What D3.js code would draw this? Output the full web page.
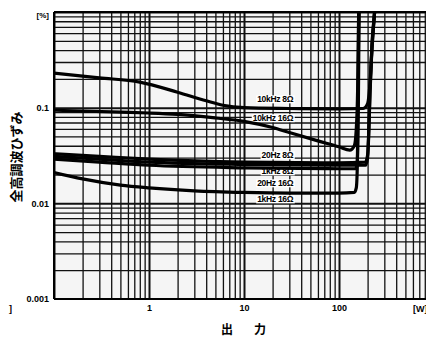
<!DOCTYPE html>
<html><head><meta charset="utf-8">
<script src="https://cdn.jsdelivr.net/npm/d3@7"></script>
<style>
html,body{margin:0;padding:0;background:#fff;}
svg{display:block;}
text{font-family:"Liberation Sans",Arial,sans-serif;fill:#000;}
</style></head>
<body>
<svg id="c" width="426" height="340"></svg>
<script>
// ---- data ----
const xTickValues = [1, 10, 100];
const xTickLabels = ["1", "10", "100"];
const yTickValues = [0.001, 0.01, 0.1];
const yTickLabels = ["0.001", "0.01", "0.1"];
const seriesNames = ["10kHz 8Ω", "10kHz 16Ω", "20Hz 8Ω", "1kHz 8Ω", "20Hz 16Ω", "1kHz 16Ω"];
// [power W, THD %]
const thd10k8 = [[0.1,0.23],[0.3,0.205],[0.8,0.185],[2,0.145],[4,0.118],[6,0.106],[10,0.1],[30,0.098],[100,0.097],[180,0.098],[200,0.11],[210,0.16],[222,0.4],[237,1],[250,2]];
const thd10k16 = [[0.1,0.094],[0.5,0.09],[1,0.088],[2,0.085],[5,0.078],[10,0.072],[20,0.062],[30,0.055],[60,0.045],[100,0.039],[130,0.036],[145,0.04],[152,0.06],[157,0.15],[161,1],[163,2]];
const thd20_8 = [[0.1,0.033],[0.3,0.031],[1,0.029],[10,0.027],[100,0.0265],[190,0.027],[200,0.032],[206,0.06],[212,0.15],[222,0.45],[237,1],[250,2]];
const thd1k8 = [[0.1,0.031],[0.3,0.029],[1,0.027],[10,0.0255],[100,0.025],[190,0.025],[200,0.03],[206,0.055],[212,0.14],[222,0.42],[237,1],[250,2]];
const thd20_16 = [[0.1,0.029],[0.3,0.027],[1,0.025],[10,0.0235],[100,0.023],[150,0.023],[156,0.028],[160,0.12],[163,1],[165,2]];
const thd1k16 = [[0.1,0.021],[0.2,0.018],[0.5,0.0155],[1,0.0145],[3,0.0135],[10,0.013],[30,0.0128],[100,0.0128],[145,0.013],[152,0.0145],[156,0.025],[159,0.15],[162,2]];
const seriesData = [thd10k8, thd10k16, thd20_8, thd1k8, thd20_16, thd1k16];
const labelY = [0.12, 0.0762, 0.0312, 0.0212, 0.0159, 0.0108]; // label anchor THD values
const labelX = 33; // label right edge, W

// ---- layout ----
const L = 54, R = 434, T = 12, B = 299;
const svg = d3.select("#c");
const x = d3.scaleLog().domain([0.1, 1000]).range([L, R]);
const y = d3.scaleLog().domain([0.001, 1]).range([B, T]);

svg.append("defs").append("clipPath").attr("id","pc")
  .append("rect").attr("x",L).attr("y",T).attr("width",R-L).attr("height",B-T);

const plot = svg.append("g").attr("clip-path","url(#pc)");
plot.append("rect").attr("x",L).attr("y",T).attr("width",R-L).attr("height",B-T).attr("fill","#f5f5f5");

// grid via axes
const isDecade = v => Math.abs(Math.log10(v) - Math.round(Math.log10(v))) < 1e-6;
const gx = plot.append("g").attr("transform",`translate(0,${B})`)
  .call(d3.axisBottom(x).tickValues(x.ticks()).tickSize(-(B-T)).tickFormat(""));
gx.select(".domain").remove();
gx.selectAll("line").attr("stroke","#111").attr("stroke-width", d => isDecade(d) ? 2 : 1.3);
const gy = plot.append("g").attr("transform",`translate(${L},0)`)
  .call(d3.axisLeft(y).tickValues(y.ticks()).tickSize(-(R-L)).tickFormat(""));
gy.select(".domain").remove();
gy.selectAll("line").attr("stroke","#111").attr("stroke-width", d => isDecade(d) ? 2 : 1.3);

// frame
svg.append("line").attr("x1",L).attr("x2",L).attr("y1",T).attr("y2",B).attr("stroke","#000").attr("stroke-width",2);
svg.append("line").attr("x1",L).attr("x2",R).attr("y1",B).attr("y2",B).attr("stroke","#000").attr("stroke-width",2);
svg.append("line").attr("x1",L).attr("x2",R).attr("y1",T).attr("y2",T).attr("stroke","#000").attr("stroke-width",2);

// labels (with white backing)
seriesNames.forEach((n,i) => {
  const t = plot.append("text").attr("x", x(labelX)).attr("y", y(labelY[i]))
    .attr("text-anchor","end").attr("dominant-baseline","middle")
    .attr("font-size",8.5).attr("font-weight","bold").attr("letter-spacing","-0.3").text(n);
  const bb = t.node().getBBox();
  plot.insert("rect", () => t.node()).attr("x",bb.x-1).attr("y",bb.y+1).attr("width",bb.width+2).attr("height",bb.height-2).attr("fill","#fff");
});

// curves
const line = d3.line().x(d => x(d[0])).y(d => y(d[1])).curve(d3.curveMonotoneX);
seriesData.forEach(s => {
  plot.append("path").attr("d", line(s)).attr("fill","none").attr("stroke","#000")
    .attr("stroke-width",3.2).attr("stroke-linejoin","round");
});

// tick labels via axes
const ax = svg.append("g").attr("transform",`translate(0,${B})`)
  .call(d3.axisBottom(x).tickValues(xTickValues).tickSize(0).tickPadding(6).tickFormat((d,i)=>xTickLabels[i]));
ax.select(".domain").remove();
ax.selectAll("text").attr("font-size",9).attr("font-weight","bold").style("font-family","Liberation Sans, Arial, sans-serif");
const ay = svg.append("g").attr("transform",`translate(${L},0)`)
  .call(d3.axisLeft(y).tickValues(yTickValues).tickSize(0).tickPadding(5).tickFormat((d,i)=>yTickLabels[i]));
ay.select(".domain").remove();
ay.selectAll("text").attr("font-size",9).attr("font-weight","bold").style("font-family","Liberation Sans, Arial, sans-serif");

// units & titles
svg.append("text").attr("x",49).attr("y",18).attr("text-anchor","end").attr("font-size",8).attr("font-weight","bold").text("[%]");
svg.append("text").attr("x",413).attr("y",312).attr("font-size",9).attr("font-weight","bold").text("[W]");
svg.append("text").attr("x",9).attr("y",312).attr("font-size",9).attr("font-weight","bold").text("]");
svg.append("text").attr("x",227).attr("y",334).attr("text-anchor","middle").attr("font-size",12).attr("font-weight","bold")
  .style("font-family","Noto Sans CJK JP").text("出");
svg.append("text").attr("x",260).attr("y",334).attr("text-anchor","middle").attr("font-size",12).attr("font-weight","bold")
  .style("font-family","Noto Sans CJK JP").text("力");
svg.append("text").attr("transform","translate(21,157) rotate(-90)").attr("text-anchor","middle")
  .attr("font-size",13).attr("font-weight","bold").style("font-family","Noto Sans CJK JP").text("全高調波ひずみ");
</script>
</body></html>
